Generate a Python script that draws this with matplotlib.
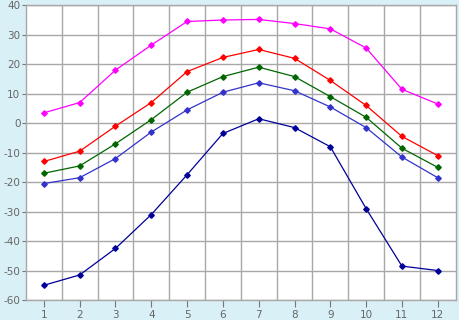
import numpy as np
import matplotlib
matplotlib.use('Agg')
import matplotlib.pyplot as plt

plt.rcParams['axes.unicode_minus'] = False

months = [1, 2, 3, 4, 5, 6, 7, 8, 9, 10, 11, 12]
s_magenta = [3.5, 7, 18, 26.5, 34.5, 35, 35.2, 33.8, 32, 25.5, 11.5, 6.5]
s_red = [-13, -9.5, -1, 7, 17.5, 22.3, 25, 22, 14.5, 6, -4.5, -11]
s_green = [-17, -14.5, -7, 1.2, 10.5, 15.8, 19, 15.8, 9, 2, -8.5, -15]
s_blue = [-20.5, -18.5, -12, -3, 4.5, 10.5, 13.7, 11, 5.5, -1.5, -11.5, -18.5]
s_navy = [-55, -51.5, -42.5, -31, -17.5, -3.5, 1.5, -1.5, -8, -29, -48.5, -50]

series = [(s_magenta, '#ff00ff'), (s_red, '#ff0000'), (s_green, '#006600'),
          (s_blue, '#3333cc'), (s_navy, '#000099')]

fig = plt.figure(figsize=(4.6, 3.2), dpi=100)
fig.patch.set_facecolor('#d9f0f7')
ax = fig.add_axes([0.0565, 0.0625, 0.934, 0.921])
ax.set_facecolor('white')

x = np.array(months)
for vals, col in series:
    ax.plot(x, vals, '-', color=col, lw=0.9, marker='D', ms=2.8, zorder=3)

ax.set_xlim(0.5, 12.5)
ax.set_ylim(-60, 40)
ax.set_xticks(x)
ax.set_xticks(np.arange(1.5, 12, 1), minor=True)
ax.set_yticks(np.arange(-60, 41, 10))
ax.grid(True, which='minor', axis='x', color='#a8a8a8', lw=1)
ax.grid(True, which='major', axis='y', color='#a8a8a8', lw=1)
ax.tick_params(axis='x', which='minor', length=0)
ax.tick_params(axis='x', which='major', length=5, color='#777777', pad=2,
               labelsize=7.5, labelcolor='#666666')
ax.tick_params(axis='y', length=3, color='#777777', pad=1,
               labelsize=7.5, labelcolor='#666666')
ax.set_axisbelow(True)
for sp in ax.spines.values():
    sp.set_color('#a8a8a8')
    sp.set_linewidth(1)

fig.savefig('out.png', dpi=100, facecolor=fig.get_facecolor())
